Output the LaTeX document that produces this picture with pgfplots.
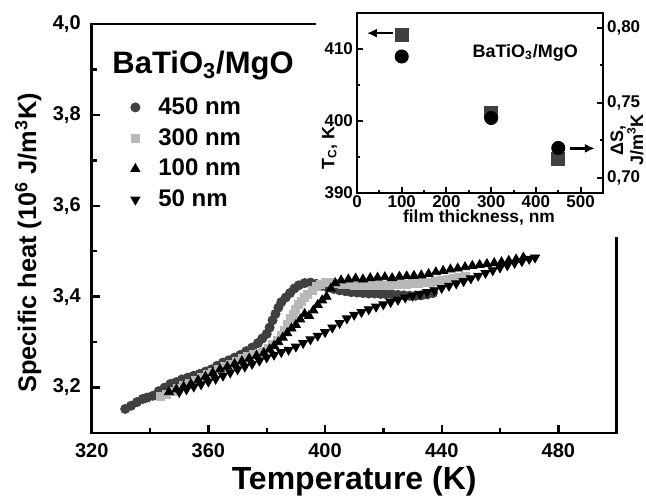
\documentclass[border=0pt]{standalone}
\usepackage{fontspec}
\setmainfont{Liberation Sans}
\usepackage{pgfplots}
\pgfplotsset{compat=1.18}
\usetikzlibrary{arrows.meta}
\definecolor{dgray}{HTML}{404040}
\definecolor{lgray}{HTML}{B8B8B8}
\begin{document}
\begin{tikzpicture}
\path[use as bounding box] (0,0) rectangle (323pt,251.5pt);
\begin{axis}[
  at={(45.85pt,35pt)}, anchor=south west, scale only axis,
  width=262.5pt, height=204.5pt,
  xmin=320, xmax=500, ymin=3.1, ymax=4.0,
  xtick={320,360,400,440,480}, ytick={3.2,3.4,3.6,3.8,4.0},
  minor x tick num=1, minor y tick num=1,
  tick align=inside, xtick pos=left, ytick pos=left,
  major tick length=4pt, minor tick length=2.5pt,
  axis line style={line width=1.4pt},
  every tick/.style={line width=1.2pt, black},
  /pgf/number format/assume math mode=true,
  tick label style={font=\fontsize{10}{12}\selectfont\bfseries},
  yticklabel style={/pgf/number format/fixed, /pgf/number format/fixed zerofill,
    /pgf/number format/precision=1, /pgf/number format/use comma, xshift=-2pt},
  xticklabel style={/pgf/number format/fixed, /pgf/number format/precision=0, yshift=-1.5pt},
  xlabel={Temperature (K)},
  xlabel style={font=\fontsize{16}{18}\selectfont\bfseries, at={(rel axis cs:0.5,-0.117)}, anchor=center},
  ylabel={Specific heat (10\textsuperscript{6} J/m\textsuperscript{3}K)},
  ylabel style={font=\fontsize{12.7}{15}\selectfont\bfseries, at={(rel axis cs:-0.121,0.465)}, anchor=center, rotate=0},
  legend style={at={(rel axis cs:0.071,0.831)}, anchor=north west, draw=none, fill=none,
    font=\fontsize{12}{14}\selectfont\bfseries, row sep=1.5pt, inner sep=0pt},
  legend cell align=left,
  legend image code/.code={\path[draw=none,fill=none] (-3pt,-0.1pt) rectangle (9.5pt,0.1pt); \draw[#1] plot coordinates {(0pt,0pt)};},
]
\addplot[only marks, mark=*, mark size=2.3pt, color=dgray] table {
331.5 3.153
333.5 3.160
335.5 3.168
337.5 3.175
339 3.178
341 3.182
343 3.192
345 3.200
347 3.208
349 3.212
351 3.218
353 3.222
355 3.226
357 3.230
359 3.235
361 3.240
363 3.248
365 3.255
367 3.260
369 3.266
371 3.272
373 3.280
375 3.288
377 3.298
378.5 3.308
380 3.318
381 3.332
382 3.348
383 3.362
384 3.376
385 3.388
386.5 3.398
388 3.408
389.5 3.418
391 3.425
393 3.430
395 3.431
397 3.428
399 3.424
401 3.420
403 3.417
405 3.414
407 3.412
409 3.410
411 3.409
413 3.408
415 3.407
417 3.407
419 3.406
421 3.405
423 3.405
425 3.404
427 3.403
429 3.402
431 3.402
433 3.403
435 3.405
437 3.408
};
\addlegendentry{450 nm}
\addplot[only marks, mark=square*, mark size=2pt, color=lgray] table {
343.5 3.180
345.5 3.186
347.5 3.192
349.5 3.198
351.5 3.204
353.5 3.210
355.5 3.216
357.5 3.222
359.5 3.228
361.5 3.234
363.5 3.240
365.5 3.246
367.5 3.252
369.5 3.258
371.5 3.264
373.5 3.268
375.5 3.272
377.5 3.276
379 3.280
380.5 3.286
382 3.294
383.5 3.304
385 3.314
386 3.326
387 3.340
388 3.352
389 3.362
390 3.372
391 3.382
392 3.390
393 3.398
394 3.406
395.5 3.414
397 3.422
398.5 3.428
400 3.432
402 3.432
404 3.430
406 3.428
408 3.426
410 3.425
412 3.424
414 3.424
416 3.424
418 3.424
420 3.425
422 3.425
424 3.426
426 3.427
428 3.428
430 3.429
432 3.430
434 3.431
436 3.432
438 3.434
440 3.436
442 3.438
444 3.440
446 3.442
448 3.444
};
\addlegendentry{300 nm}
\addplot[only marks, mark=triangle*, mark size=2.6pt, color=black] table {
346.5 3.190
349 3.196
351.5 3.202
354 3.208
356.5 3.216
359 3.224
361.5 3.232
364 3.240
366.5 3.246
369 3.252
371.5 3.258
374 3.264
376.5 3.270
379 3.276
381 3.284
382.5 3.292
384 3.300
385.5 3.310
387 3.320
388.5 3.330
390 3.338
391.5 3.350
393 3.362
394.5 3.358
396 3.370
397.5 3.382
399 3.392
400.5 3.400
402 3.418
403.5 3.430
405.5 3.436
408 3.438
410.5 3.440
413 3.438
415.5 3.441
418 3.442
420.5 3.443
423 3.441
425.5 3.444
428 3.445
430.5 3.446
433 3.447
435.5 3.450
438 3.454
440.5 3.457
443 3.460
445.5 3.462
448 3.465
450.5 3.468
453 3.470
455.5 3.472
458 3.474
460.5 3.476
463 3.479
465.5 3.482
468 3.486
};
\addlegendentry{100 nm}
\addplot[only marks, mark=triangle*, mark size=2.6pt, mark options={rotate=180}, color=black] table {
350 3.190
352.5 3.196
355 3.202
357.5 3.207
360 3.213
362.5 3.219
365 3.226
367.5 3.233
370 3.240
372.5 3.246
375 3.252
377.5 3.259
380 3.266
382.5 3.272
385 3.278
387.5 3.283
390 3.290
392.5 3.298
395 3.306
397.5 3.314
400 3.322
402.5 3.332
405 3.342
407.5 3.352
410 3.360
412.5 3.366
415 3.372
417.5 3.378
420 3.383
422.5 3.388
425 3.393
427.5 3.398
430 3.402
432.5 3.406
435 3.410
437.5 3.414
440 3.419
442.5 3.424
445 3.429
447.5 3.434
450 3.440
452.5 3.446
455 3.452
457.5 3.458
460 3.464
462.5 3.469
465 3.474
467.5 3.478
470 3.483
472 3.486
};
\addlegendentry{50 nm}
\node[anchor=base west, inner sep=0pt, font=\fontsize{15.5}{17}\selectfont\bfseries]
  at (rel axis cs:0.0387,0.880) {BaTiO\textsubscript{3}/MgO};
\end{axis}
\fill[white] (158pt,133pt) rectangle (323pt,251.5pt);
\begin{axis}[
  at={(178.5pt,155pt)}, anchor=south west, scale only axis,
  width=123pt, height=90pt,
  xmin=0, xmax=550, ymin=390, ymax=415,
  xtick={0,100,200,300,400,500}, ytick={390,400,410},
  minor x tick num=1, minor y tick num=1,
  tick align=inside, xtick pos=left, ytick pos=left,
  major tick length=3pt, minor tick length=1.5pt,
  axis line style={line width=1.3pt},
  every tick/.style={line width=1pt, black},
  /pgf/number format/assume math mode=true,
  tick label style={font=\fontsize{8.5}{10}\selectfont\bfseries},
  yticklabel style={xshift=1.5pt},
  xticklabel style={yshift=2pt},
  xlabel={film thickness, nm},
  xlabel style={font=\fontsize{8.7}{10}\selectfont\bfseries, at={(rel axis cs:0.496,-0.135)}, anchor=center},
  ylabel={T\textsubscript{C}, K},
  ylabel style={font=\fontsize{9}{10}\selectfont\bfseries, at={(rel axis cs:-0.112,0.25)}, anchor=center, rotate=0},
]
\addplot[only marks, mark=square*, mark size=3.2pt, color=dgray] table {
100 412.0
300 401.2
450 394.7
};
\draw[-{Latex[length=5pt,width=4.5pt]}, line width=1.2pt] (axis cs:80,412.2) -- (axis cs:22,412.2);
\draw[-{Latex[length=5pt,width=4.5pt]}, line width=1.2pt] (axis cs:476,396.2) -- (axis cs:532,396.2);
\node[font=\fontsize{9}{10}\selectfont\bfseries] at (axis cs:376,409.5) {BaTiO\textsubscript{3}/MgO};
\end{axis}
\begin{axis}[
  at={(178.5pt,155pt)}, anchor=south west, scale only axis,
  width=123pt, height=90pt,
  xmin=0, xmax=550, ymin=0.69, ymax=0.81,
  axis x line=none, axis y line*=right,
  ytick={0.70,0.75,0.80}, minor y tick num=1,
  tick align=inside,
  major tick length=3pt, minor tick length=1.5pt,
  axis line style={line width=1.3pt},
  every tick/.style={line width=1pt, black},
  /pgf/number format/assume math mode=true,
  tick label style={font=\fontsize{8.5}{10}\selectfont\bfseries},
  yticklabel style={/pgf/number format/fixed, /pgf/number format/fixed zerofill,
    /pgf/number format/precision=2, /pgf/number format/use comma, xshift=-1.5pt},
  ylabel={ΔS,\\J/m\textsuperscript{3}K},
  ylabel style={font=\fontsize{9}{10}\selectfont\bfseries, align=center, at={(rel axis cs:1.098,0.294)}, anchor=center, rotate=0},
]
\addplot[only marks, mark=*, mark size=3.3pt, color=black] table {
100 0.781
300 0.740
450 0.720
};
\end{axis}
\end{tikzpicture}
\end{document}
